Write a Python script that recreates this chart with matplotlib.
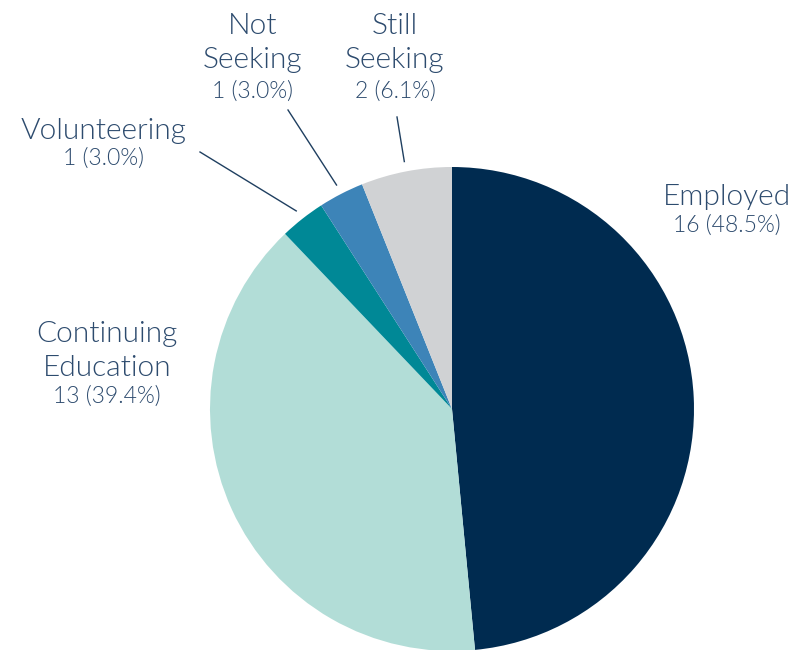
import numpy as np
import matplotlib
matplotlib.use('Agg')
import matplotlib.pyplot as plt

labels = ['Employed', 'Continuing\nEducation', 'Volunteering', 'Not\nSeeking', 'Still\nSeeking']
counts = [16, 13, 1, 1, 2]
colors = ['#002b50', '#b2ddd7', '#008896', '#3d84b8', '#d0d2d4']

text_color = '#2d4b6e'
plt.rcParams['font.family'] = ['Lato', 'DejaVu Sans']

W, H = 809, 650
fig = plt.figure(figsize=(W / 100, H / 100), dpi=100)
ax = fig.add_axes([0, 0, 1, 1])

cx, cy, R = 452, H - 409, 242
wedges, _ = ax.pie(counts, colors=colors, startangle=90, counterclock=False,
                   center=(cx, cy), radius=R, frame=True,
                   wedgeprops=dict(linewidth=0))
ax.set_xlim(0, W)
ax.set_ylim(0, H)
ax.set_aspect('equal')
ax.axis('off')

total = sum(counts)
# label layout in pixel coords (top origin): x center, name baseline, value baseline
label_x = [727, 107, 104, 253, 395]
name_base = [205, 376, 139, 68, 68]
value_base = [232, 403, 165, 98, 98]
# leader line start points (pixel coords) for small slices
leader_start = {2: (200, 152), 3: (288, 110), 4: (397, 117)}

for i, (lab, n) in enumerate(zip(labels, counts)):
    x = label_x[i]
    ax.text(x, H - value_base[i], f'{n} ({n / total * 100:.1f}%)', ha='center',
            va='baseline', fontsize=16.5, fontweight=300, color=text_color)
    ax.text(x, H - name_base[i], lab, ha='center', va='baseline', fontsize=21.5,
            fontweight=300, color=text_color, linespacing=1.4,
            multialignment='center')
    if i in leader_start:
        w = wedges[i]
        mid = np.deg2rad((w.theta1 + w.theta2) / 2)
        ex, ey = cx + (R + 10) * np.cos(mid), cy + (R + 10) * np.sin(mid)
        sx, sy = leader_start[i]
        ax.plot([sx, ex], [H - sy, ey], color='#1f3f60', linewidth=1)

fig.savefig('out.png', dpi=100)
